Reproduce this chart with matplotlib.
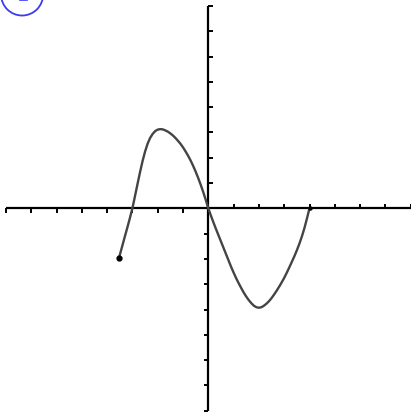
import matplotlib
matplotlib.use("Agg")
import matplotlib.pyplot as plt
import matplotlib.patches as patches

# curve points
curve_x = [-3.53, -3.4, -3.3, -3.2, -3.1, -3.0, -2.9, -2.8, -2.7, -2.6,
           -2.5, -2.4, -2.3, -2.2, -2.1, -2.0, -1.9, -1.8, -1.7, -1.6,
           -1.5, -1.4, -1.3, -1.2, -1.1, -1.0, -0.9, -0.8, -0.7, -0.6,
           -0.5, -0.4, -0.3, -0.2, -0.1, 0.0,
           0.1, 0.2, 0.3, 0.4, 0.5, 0.6, 0.7, 0.8, 0.9, 1.0,
           1.1, 1.2, 1.3, 1.4, 1.5, 1.6, 1.7, 1.8, 1.9, 2.0,
           2.1, 2.2, 2.3, 2.4, 2.5, 2.6, 2.7, 2.8, 2.9, 3.0,
           3.1, 3.2, 3.3, 3.4, 3.5, 3.6, 3.7, 3.8, 3.9, 4.0]
curve_y = [-1.96, -1.49, -1.12, -0.76, -0.39, 0.0, 0.47, 0.95, 1.42, 1.86,
           2.24, 2.55, 2.78, 2.94, 3.05, 3.11, 3.13, 3.12, 3.08, 3.03,
           2.96, 2.88, 2.78, 2.67, 2.55, 2.41, 2.25, 2.08, 1.89, 1.68,
           1.45, 1.20, 0.93, 0.64, 0.33, 0.0,
           -0.28, -0.55, -0.81, -1.06, -1.31, -1.56, -1.81, -2.06, -2.31, -2.54,
           -2.76, -2.96, -3.15, -3.33, -3.49, -3.63, -3.75, -3.85, -3.91, -3.93,
           -3.91, -3.85, -3.77, -3.67, -3.55, -3.41, -3.26, -3.10, -2.93, -2.75,
           -2.55, -2.34, -2.12, -1.90, -1.66, -1.40, -1.11, -0.78, -0.40, 0.0]

x_ticks = list(range(-8, 9))
y_ticks = list(range(-8, 9))

unit = 25.3
ox, oy = 208.3, 209.3
W, H = 411, 414

fig = plt.figure(figsize=(W / 100, H / 100), dpi=100)
ax = fig.add_axes([0, 0, 1, 1])
ax.set_xlim(-ox / unit, (W - ox) / unit)
ax.set_ylim(-(H - oy) / unit, oy / unit)
ax.axis('off')

# axes
ax.plot([x_ticks[0], x_ticks[-1]], [0, 0], color='black', lw=1.6, solid_capstyle='butt')
ax.plot([0, 0], [y_ticks[0], y_ticks[-1]], color='black', lw=1.6, solid_capstyle='butt')

# ticks: left ones hang down, right ones go up, top ones right, bottom ones left
t = 0.17
for xv in x_ticks:
    if xv == 0:
        continue
    d = -t if xv < 0 else t
    ax.plot([xv, xv], [0, d], color='black', lw=1.4, solid_capstyle='butt')
for yv in y_ticks:
    if yv == 0:
        continue
    d = t if yv > 0 else -t
    ax.plot([0, d], [yv, yv], color='black', lw=1.4, solid_capstyle='butt')

# the graph
ax.plot(curve_x, curve_y, color='#444444', lw=1.7,
        solid_joinstyle='round', solid_capstyle='round')
ax.plot(curve_x[0], curve_y[0], 'o', color='black', ms=3.5)
ax.plot(curve_x[-1], curve_y[-1], 'o', color='black', ms=2.2)

# blue circled label peeking in at the top left
circ = patches.Circle((-7.36, 8.45), 0.83, facecolor='none',
                      edgecolor='#3b3bf0', lw=1.3)
ax.add_patch(circ)
ax.plot([-7.45, -7.15], [8.25, 8.25], color='#3b3bf0', lw=1.2)

fig.savefig('out.png', dpi=100)
